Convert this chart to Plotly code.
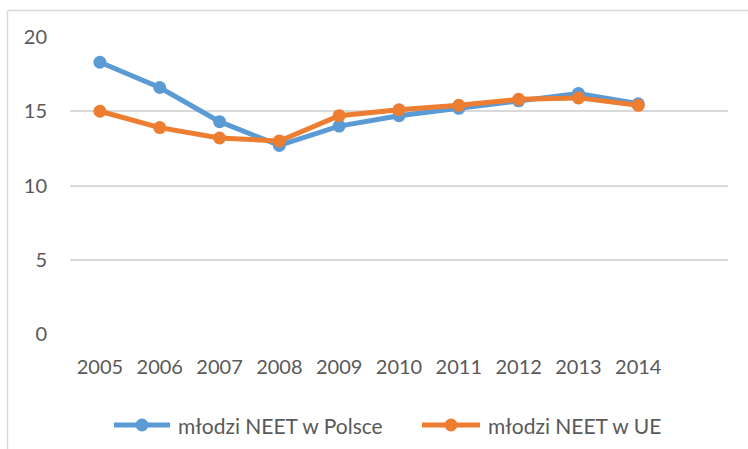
import plotly.graph_objects as go

years = ["2005", "2006", "2007", "2008", "2009", "2010", "2011", "2012", "2013", "2014"]
neet_polska = [18.3, 16.6, 14.3, 12.7, 14.0, 14.7, 15.2, 15.7, 16.2, 15.5]
neet_ue = [15.0, 13.9, 13.2, 13.0, 14.7, 15.1, 15.4, 15.8, 15.9, 15.4]
series_names = ["młodzi NEET w Polsce", "młodzi NEET w UE"]
y_ticks = [0, 5, 10, 15, 20]

BLUE = "#5B9BD5"
ORANGE = "#ED7D31"
TEXT = "#595959"
GRID = "#D9D9D9"
FONT = "Lato"
colors = [BLUE, ORANGE]

fig = go.Figure()
for name, vals, c in zip(series_names, [neet_polska, neet_ue], colors):
    fig.add_trace(go.Scatter(x=years, y=vals, name=name, mode="lines+markers",
                             line=dict(color=c, width=5), marker=dict(color=c, size=13),
                             showlegend=False))

W, H = 748, 449
L, R, T, B = 70, 20, 37, 115
pw, ph = W - L - R, H - T - B

def px(x):
    return (x - L) / pw

def py(y):
    return (H - B - y) / ph

shapes = [
    dict(type="line", xref="paper", yref="paper", x0=px(7.5), x1=px(760), y0=py(10.5), y1=py(10.5),
         line=dict(color=GRID, width=1.5)),
    dict(type="line", xref="paper", yref="paper", x0=px(7.5), x1=px(7.5), y0=py(10.5), y1=py(460),
         line=dict(color=GRID, width=1.5)),
]
annotations = []
# custom legend (line + marker symbol, then text)
legend_y = 425
legend_items = [(114, 170, 176), (422, 480, 486)]
for (lx0, lx1, tx), name, c in zip(legend_items, series_names, colors):
    shapes.append(dict(type="line", xref="paper", yref="paper", x0=px(lx0), x1=px(lx1),
                       y0=py(legend_y), y1=py(legend_y), line=dict(color=c, width=5)))
    cx = (lx0 + lx1) / 2
    shapes.append(dict(type="circle", xref="paper", yref="paper", x0=px(cx - 6.5), x1=px(cx + 6.5),
                       y0=py(legend_y + 6.5), y1=py(legend_y - 6.5), fillcolor=c, line=dict(width=0)))
    annotations.append(dict(text=name, xref="paper", yref="paper", x=px(tx), y=py(legend_y),
                            xanchor="left", yanchor="middle", showarrow=False,
                            font=dict(family=FONT, size=21, color=TEXT)))

fig.update_layout(
    width=W, height=H,
    margin=dict(l=L, r=R, t=T, b=B, autoexpand=False),
    paper_bgcolor="white", plot_bgcolor="white",
    font=dict(family=FONT, size=20, color=TEXT),
    showlegend=False,
    xaxis=dict(type="category", categoryorder="array", categoryarray=years,
               range=[-0.5, 10.5], showgrid=False, showline=False, zeroline=False,
               ticks="", ticklabelstandoff=19, automargin=False, tickfont=dict(size=20, color=TEXT)),
    yaxis=dict(range=[0, 20], tickvals=y_ticks, showgrid=True, gridcolor=GRID, gridwidth=1.5,
               zeroline=False, showline=False, ticks="", ticklabelstandoff=22, automargin=False,
               tickfont=dict(size=20, color=TEXT)),
    shapes=shapes,
    annotations=annotations,
)

fig.write_html("out.html", config={"displayModeBar": False},
               post_script="document.body.style.margin='0';document.body.style.overflow='hidden';")
